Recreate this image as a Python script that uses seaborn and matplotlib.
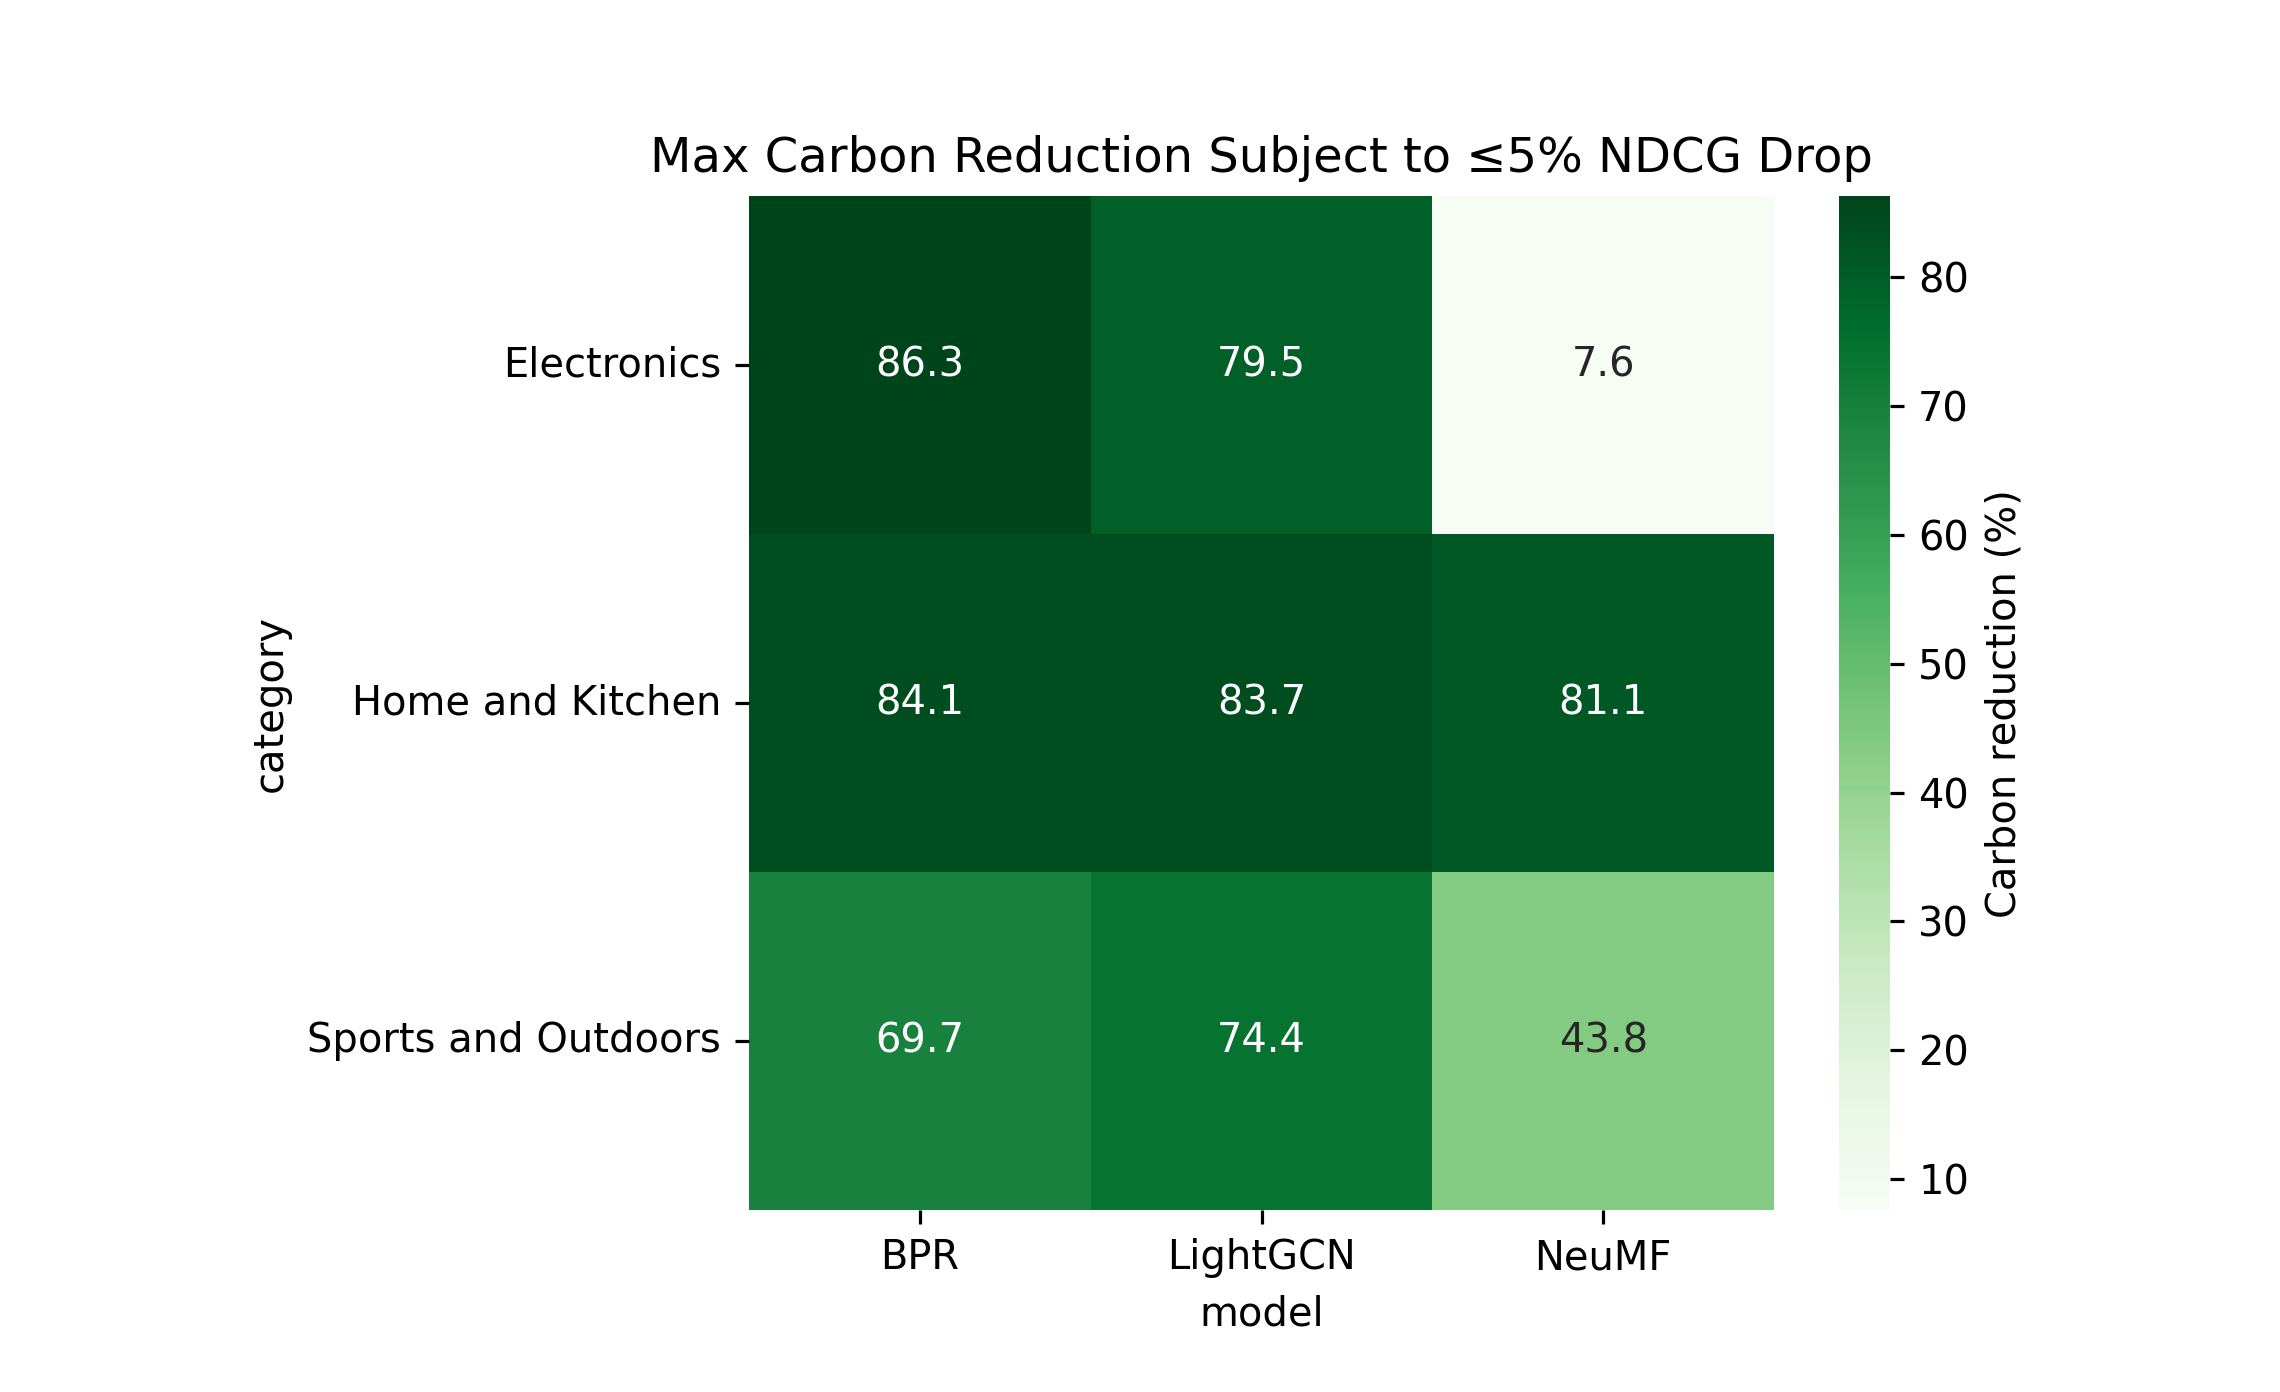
import pandas as pd
import seaborn as sns
import matplotlib.pyplot as plt

# Data
categories = ['Electronics', 'Home and Kitchen', 'Sports and Outdoors']
models = ['BPR', 'LightGCN', 'NeuMF']
bpr = [86.3, 84.1, 69.7]
lightgcn = [79.5, 83.7, 74.4]
neumf = [7.6, 81.1, 43.8]

df = pd.DataFrame({'BPR': bpr, 'LightGCN': lightgcn, 'NeuMF': neumf},
                  index=pd.Index(categories, name='category'))
df.columns.name = 'model'

fig = plt.figure(figsize=(2280 / 288, 1392 / 288), dpi=288)
ax = fig.add_axes([0.3285, 0.1307, 0.4496, 0.7284])
cax = fig.add_axes([0.8066, 0.1307, 0.0224, 0.7284])

sns.heatmap(df, annot=True, fmt='.1f', cmap='Greens', ax=ax, cbar_ax=cax,
            cbar_kws={'label': 'Carbon reduction (%)'})
ax.set_title('Max Carbon Reduction Subject to ≤5% NDCG Drop')
ax.tick_params(axis='y', labelrotation=0)

fig.savefig('out.png', dpi=288)
